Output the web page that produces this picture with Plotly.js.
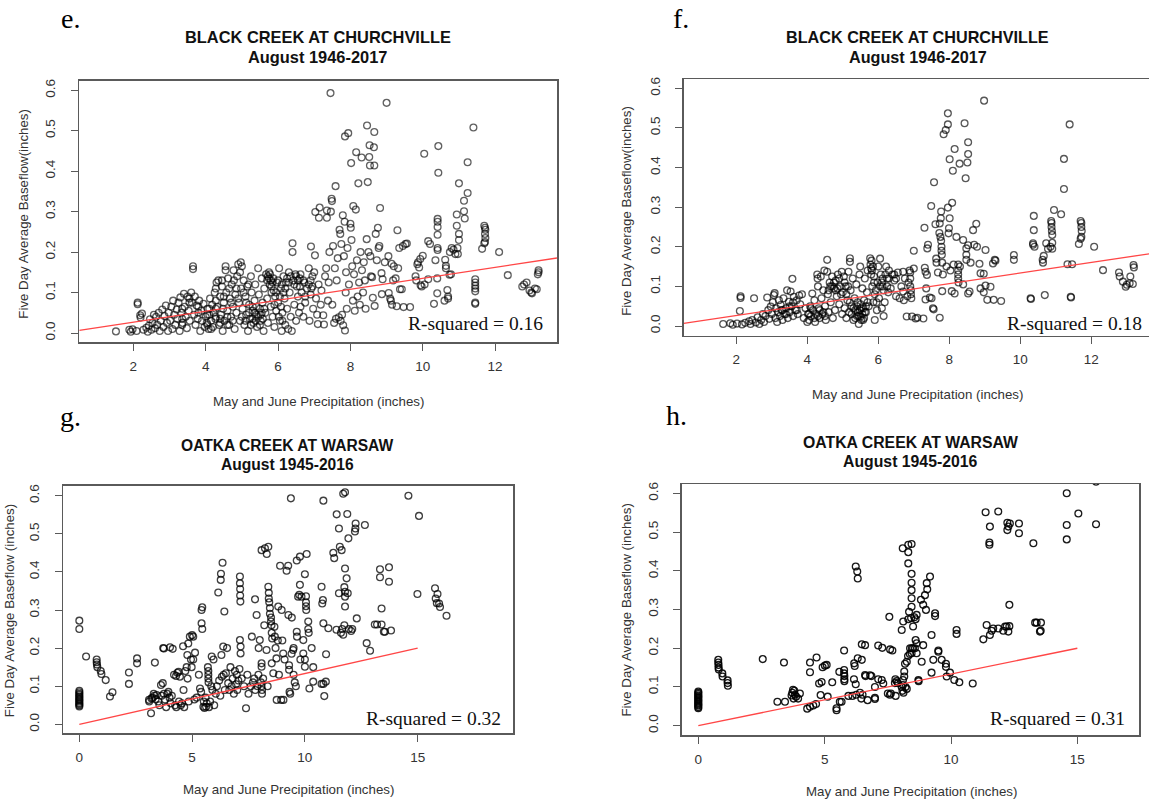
<!DOCTYPE html>
<html>
<head>
<meta charset="utf-8">
<script src="https://cdn.plot.ly/plotly-3.0.1.min.js"></script>
<style>
html,body{margin:0;padding:0;overflow:hidden;background:#fff;}
#chart{width:1153px;height:801px;}
</style>
</head>
<body>
<div id="chart"></div>
<script>
// ---------------- DATA ----------------
// Panel e: Black Creek at Churchville, August 1946-2017 (precip in, baseflow in)
const ePts = [
[1.52,0.004],[1.89,0.008],[1.93,0.003],[1.98,0.009],[2.09,0.005],[2.12,0.075],[2.12,0.071],[2.19,0.044],[2.2,0.038],[2.24,0.048],[2.28,0.008],[2.36,0.013],[2.4,0.003],[2.43,0.018],[2.46,0.034],[2.5,0.008],[2.53,0.025],[2.57,0.045],[2.6,0.012],[2.63,0.04],[2.66,0.02],[2.7,0.05],[2.73,0.005],[2.76,0.03],[2.8,0.058],[2.83,0.015],[2.86,0.042],[2.9,0.068],[2.93,0.025],[2.96,0.005],[2.98,0.05],
[3.02,0.03],[3.05,0.065],[3.08,0.01],[3.1,0.08],[3.13,0.045],[3.16,0.02],[3.2,0.058],[3.22,0.035],[3.25,0.075],[3.28,0.005],[3.3,0.088],[3.33,0.05],[3.36,0.025],[3.4,0.097],[3.42,0.065],[3.45,0.04],[3.48,0.012],[3.5,0.09],[3.53,0.055],[3.56,0.03],[3.6,0.1],[3.62,0.075],[3.65,0.165],[3.65,0.158],[3.68,0.045],[3.7,0.09],[3.72,0.02],[3.75,0.068],[3.78,0.035],[3.82,0.08],[3.85,0.005],[3.88,0.055],[3.9,0.03],[3.94,0.072],[3.97,0.015],
[3.35,0.02],[3.35,0.035],[3.35,0.06],[3.55,0.075],[3.55,0.085],[3.8,0.05],[3.8,0.065],
[4.0,0.04],[4.03,0.025],[4.05,0.06],[4.08,0.01],[4.1,0.045],[4.12,0.085],[4.15,0.03],[4.18,0.07],[4.2,0.015],[4.22,0.05],[4.25,0.1],[4.27,0.035],[4.3,0.125],[4.32,0.065],[4.35,0.13],[4.37,0.02],[4.4,0.09],[4.42,0.045],[4.45,0.115],[4.47,0.005],[4.5,0.075],[4.52,0.03],[4.55,0.165],[4.55,0.155],[4.57,0.1],[4.6,0.055],[4.62,0.135],[4.65,0.02],[4.67,0.085],[4.7,0.04],[4.72,0.12],[4.75,0.065],[4.77,0.155],[4.8,0.01],[4.82,0.095],[4.85,0.05],[4.87,0.14],[4.9,0.17],[4.92,0.075],[4.95,0.03],[4.97,0.175],[4.98,0.11],
[4.05,0.02],[4.05,0.045],[4.1,0.06],[4.15,0.01],[4.28,0.04],[4.28,0.06],[4.28,0.08],[4.28,0.11],[4.4,0.025],[4.4,0.035],[4.45,0.13],[4.48,0.06],[4.5,0.09],[4.6,0.02],[4.6,0.04],[4.65,0.11],[4.7,0.075],[4.75,0.03],[4.78,0.13],[4.85,0.11],[4.9,0.085],[4.95,0.15],
[5.0,0.165],[5.02,0.06],[5.05,0.13],[5.07,0.02],[5.1,0.09],[5.12,0.045],[5.15,0.115],[5.17,0.005],[5.2,0.07],[5.22,0.035],[5.25,0.14],[5.27,0.1],[5.3,0.055],[5.32,0.025],[5.35,0.08],[5.37,0.12],[5.4,0.045],[5.42,0.015],[5.45,0.16],[5.47,0.095],[5.5,0.06],[5.52,0.03],[5.55,0.135],[5.57,0.075],[5.6,0.005],[5.62,0.11],[5.65,0.05],[5.67,0.145],[5.7,0.085],[5.72,0.025],[5.75,0.15],[5.77,0.12],[5.8,0.065],[5.82,0.1],[5.85,0.04],[5.87,0.135],[5.9,0.015],[5.92,0.09],[5.95,0.055],[5.97,0.125],
[5.0,0.04],[5.05,0.1],[5.1,0.03],[5.12,0.075],[5.18,0.12],[5.2,0.05],[5.25,0.02],[5.3,0.035],[5.3,0.065],[5.35,0.05],[5.38,0.03],[5.4,0.065],[5.45,0.04],[5.5,0.02],[5.52,0.045],[5.55,0.05],[5.58,0.035],[5.62,0.06],[5.7,0.13],[5.72,0.14],[5.75,0.135],[5.78,0.145],[5.8,0.13],[5.82,0.115],[5.85,0.125],[5.88,0.105],[5.9,0.07],[5.95,0.1],
[6.0,0.075],[6.03,0.16],[6.05,0.03],[6.08,0.11],[6.1,0.005],[6.12,0.05],[6.15,0.14],[6.18,0.085],[6.2,0.02],[6.22,0.125],[6.25,0.06],[6.28,0.01],[6.3,0.15],[6.32,0.1],[6.35,0.04],[6.38,0.005],[6.4,0.222],[6.4,0.2],[6.42,0.13],[6.45,0.07],[6.48,0.145],[6.5,0.03],[6.52,0.115],[6.55,0.09],[6.58,0.05],[6.6,0.135],[6.62,0.065],[6.65,0.1],[6.7,0.04],[6.72,0.125],[6.75,0.075],[6.8,0.11],[6.85,0.16],[6.87,0.03],[6.9,0.095],[6.91,0.214],[6.95,0.14],[6.97,0.06],
[6.0,0.13],[6.02,0.04],[6.05,0.09],[6.08,0.065],[6.1,0.12],[6.12,0.03],[6.15,0.1],[6.2,0.11],[6.25,0.135],[6.3,0.125],[6.35,0.14],[6.45,0.12],[6.5,0.14],[6.55,0.13],[6.6,0.115],[6.62,0.145],[6.7,0.13],[6.75,0.09],[6.85,0.12],[6.9,0.13],[6.92,0.11],[6.95,0.115],
[7.0,0.15],[7.02,0.192],[7.03,0.299],[7.05,0.085],[7.08,0.045],[7.1,0.022],[7.12,0.12],[7.13,0.285],[7.15,0.31],[7.18,0.07],[7.2,0.105],[7.25,0.044],[7.27,0.021],[7.3,0.14],[7.33,0.16],[7.35,0.303],[7.35,0.285],[7.38,0.08],[7.4,0.125],[7.42,0.2],[7.45,0.593],[7.46,0.3],[7.48,0.332],[7.49,0.326],[7.5,0.07],[7.52,0.215],[7.55,0.025],[7.57,0.16],[7.59,0.363],[7.6,0.035],[7.62,0.13],[7.65,0.185],[7.68,0.039],[7.7,0.255],[7.72,0.245],[7.73,0.03],[7.75,0.22],[7.77,0.045],[7.79,0.291],[7.8,0.019],[7.82,0.19],[7.84,0.275],[7.85,0.006],[7.85,0.486],[7.87,0.1],[7.88,0.15],[7.9,0.06],[7.92,0.21],[7.94,0.494],[7.96,0.12],
[8.0,0.27],[8.01,0.26],[8.02,0.42],[8.03,0.23],[8.05,0.165],[8.07,0.08],[8.08,0.314],[8.1,0.145],[8.12,0.055],[8.15,0.305],[8.16,0.447],[8.18,0.18],[8.2,0.09],[8.22,0.37],[8.24,0.125],[8.26,0.07],[8.28,0.2],[8.31,0.434],[8.32,0.155],[8.35,0.1],[8.37,0.175],[8.4,0.13],[8.42,0.06],[8.45,0.232],[8.46,0.513],[8.48,0.373],[8.5,0.2],[8.52,0.435],[8.53,0.464],[8.54,0.414],[8.55,0.19],[8.57,0.14],[8.6,0.138],[8.62,0.087],[8.65,0.459],[8.66,0.497],[8.66,0.414],[8.67,0.067],[8.7,0.245],[8.73,0.18],[8.76,0.26],[8.78,0.21],[8.8,0.215],[8.82,0.309],[8.86,0.148],[8.87,0.096],[8.89,0.133],[8.95,0.175],
[9.0,0.569],[9.05,0.19],[9.06,0.099],[9.1,0.085],[9.12,0.08],[9.14,0.171],[9.15,0.07],[9.18,0.13],[9.2,0.165],[9.25,0.135],[9.28,0.066],[9.3,0.254],[9.32,0.16],[9.35,0.21],[9.37,0.108],[9.42,0.108],[9.45,0.215],[9.47,0.064],[9.52,0.22],[9.56,0.221],[9.65,0.064],[9.8,0.14],[9.82,0.13],[9.85,0.17],[9.87,0.175],[9.9,0.162],[9.93,0.183],[9.94,0.118],[9.97,0.115],
[10.0,0.191],[10.04,0.443],[10.05,0.12],[10.15,0.227],[10.15,0.133],[10.2,0.22],[10.31,0.072],[10.35,0.18],[10.4,0.135],[10.4,0.098],[10.41,0.282],[10.41,0.275],[10.41,0.262],[10.41,0.243],[10.41,0.21],[10.41,0.205],[10.43,0.462],[10.43,0.396],[10.6,0.08],[10.62,0.181],[10.64,0.166],[10.64,0.16],[10.68,0.106],[10.7,0.09],[10.7,0.085],[10.74,0.144],[10.78,0.145],[10.75,0.2],[10.8,0.21],[10.85,0.206],[10.9,0.195],[10.94,0.293],[10.94,0.265],[10.96,0.21],[10.97,0.195],
[11.0,0.37],[11.0,0.245],[11.0,0.23],[11.14,0.327],[11.14,0.301],[11.16,0.283],[11.24,0.422],[11.24,0.346],[11.4,0.508],[11.45,0.133],[11.45,0.125],[11.45,0.117],[11.45,0.11],[11.45,0.103],[11.45,0.075],[11.45,0.072],[11.64,0.208],[11.7,0.265],[11.72,0.26],[11.73,0.255],[11.72,0.245],[11.73,0.235],[11.72,0.225],[11.7,0.222],[12.11,0.2],[12.35,0.143],[12.75,0.115],[12.8,0.12],[12.87,0.125],[12.95,0.105],[13.0,0.1],[13.02,0.098],[13.1,0.11],[13.15,0.108],[13.18,0.145],[13.2,0.15],[13.2,0.155]
];

// Panel f: Black Creek at Churchville, August 1946-2017
const fPts = [
[1.63,0.005],[1.83,0.007],[1.9,0.003],[2.02,0.006],[2.1,0.038],[2.12,0.075],[2.12,0.071],[2.16,0.004],[2.25,0.008],[2.36,0.012],[2.4,0.005],[2.45,0.015],[2.5,0.07],[2.55,0.009],[2.6,0.022],[2.65,0.005],[2.7,0.015],[2.75,0.03],[2.78,0.01],[2.82,0.025],[2.87,0.072],[2.9,0.04],[2.93,0.018],[2.97,0.049],
[3.0,0.03],[3.03,0.06],[3.06,0.078],[3.08,0.083],[3.1,0.02],[3.12,0.045],[3.15,0.01],[3.18,0.035],[3.2,0.065],[3.23,0.025],[3.25,0.053],[3.28,0.04],[3.3,0.015],[3.33,0.07],[3.36,0.03],[3.4,0.045],[3.43,0.09],[3.45,0.02],[3.48,0.061],[3.5,0.035],[3.53,0.087],[3.56,0.05],[3.58,0.119],[3.6,0.025],[3.62,0.074],[3.66,0.04],[3.7,0.065],[3.73,0.03],[3.77,0.077],[3.8,0.055],[3.85,0.08],[3.9,0.02],[3.95,0.045],
[3.3,0.04],[3.4,0.03],[3.5,0.05],[3.6,0.06],[3.7,0.04],
[4.0,0.01],[4.02,0.03],[4.05,0.015],[4.08,0.05],[4.1,0.025],[4.14,0.082],[4.16,0.04],[4.2,0.065],[4.22,0.01],[4.25,0.03],[4.28,0.13],[4.29,0.12],[4.3,0.1],[4.32,0.045],[4.35,0.02],[4.38,0.125],[4.4,0.07],[4.42,0.03],[4.45,0.09],[4.48,0.14],[4.5,0.05],[4.52,0.015],[4.56,0.167],[4.56,0.137],[4.58,0.08],[4.6,0.035],[4.63,0.11],[4.66,0.06],[4.7,0.125],[4.72,0.02],[4.75,0.095],[4.78,0.04],[4.8,0.115],[4.83,0.075],[4.86,0.13],[4.9,0.055],[4.93,0.1],[4.97,0.137],[4.98,0.03],
[4.05,0.03],[4.1,0.045],[4.2,0.02],[4.3,0.025],[4.35,0.04],[4.45,0.035],[4.5,0.025],[4.6,0.09],[4.65,0.1],[4.7,0.1],[4.75,0.11],[4.8,0.09],[4.85,0.095],[4.9,0.12],[4.95,0.08],
[5.0,0.085],[5.03,0.125],[5.05,0.045],[5.08,0.1],[5.1,0.02],[5.13,0.065],[5.16,0.137],[5.18,0.035],[5.2,0.171],[5.2,0.162],[5.22,0.09],[5.25,0.05],[5.28,0.12],[5.3,0.015],[5.33,0.07],[5.35,0.04],[5.38,0.105],[5.4,0.025],[5.42,0.06],[5.45,0.005],[5.47,0.13],[5.49,0.15],[5.5,0.024],[5.52,0.045],[5.55,0.095],[5.57,0.015],[5.6,0.065],[5.62,0.12],[5.65,0.035],[5.68,0.085],[5.7,0.14],[5.73,0.05],[5.77,0.171],[5.78,0.155],[5.8,0.145],[5.81,0.165],[5.83,0.1],[5.86,0.06],[5.88,0.125],[5.9,0.015],[5.93,0.09],[5.96,0.04],[5.98,0.11],
[5.05,0.11],[5.1,0.08],[5.15,0.1],[5.2,0.06],[5.25,0.03],[5.3,0.045],[5.35,0.02],[5.4,0.05],[5.42,0.035],[5.45,0.025],[5.48,0.04],[5.5,0.055],[5.52,0.015],[5.55,0.03],[5.58,0.045],[5.6,0.02],[5.62,0.035],[5.65,0.05],[5.7,0.06],[5.8,0.13],[5.82,0.14],[5.85,0.15],[5.88,0.11],[5.9,0.08],[5.95,0.06],
[6.0,0.15],[6.02,0.07],[6.05,0.17],[6.07,0.13],[6.1,0.045],[6.12,0.1],[6.15,0.025],[6.18,0.06],[6.22,0.15],[6.25,0.12],[6.28,0.085],[6.3,0.14],[6.35,0.095],[6.4,0.13],[6.45,0.115],[6.5,0.075],[6.55,0.135],[6.6,0.07],[6.65,0.1],[6.7,0.137],[6.7,0.087],[6.72,0.065],[6.75,0.12],[6.8,0.024],[6.82,0.075],[6.85,0.11],[6.88,0.14],[6.9,0.135],[6.9,0.12],[6.9,0.1],[6.92,0.09],[6.92,0.08],[6.93,0.07],[6.95,0.024],
[6.05,0.1],[6.1,0.11],[6.12,0.12],[6.15,0.09],[6.2,0.13],[6.25,0.1],[6.3,0.12],[6.45,0.13],[6.5,0.12],
[7.0,0.19],[7.0,0.145],[7.05,0.019],[7.1,0.021],[7.27,0.019],[7.3,0.248],[7.31,0.147],[7.33,0.137],[7.33,0.067],[7.35,0.095],[7.37,0.129],[7.38,0.196],[7.4,0.205],[7.45,0.072],[7.49,0.303],[7.5,0.07],[7.54,0.045],[7.56,0.042],[7.57,0.363],[7.61,0.257],[7.63,0.17],[7.64,0.16],[7.68,0.135],[7.72,0.235],[7.73,0.259],[7.73,0.021],[7.75,0.225],[7.76,0.272],[7.77,0.289],[7.77,0.215],[7.78,0.2],[7.78,0.19],[7.79,0.18],[7.8,0.088],[7.8,0.16],[7.82,0.13],[7.84,0.484],[7.9,0.495],[7.92,0.15],[7.96,0.537],[7.96,0.509],[7.96,0.299],[7.98,0.234],[7.99,0.247],
[8.01,0.272],[8.01,0.421],[8.03,0.14],[8.07,0.088],[8.08,0.311],[8.1,0.392],[8.12,0.155],[8.15,0.447],[8.15,0.082],[8.2,0.225],[8.25,0.155],[8.25,0.14],[8.25,0.13],[8.25,0.12],[8.26,0.11],[8.29,0.41],[8.3,0.15],[8.39,0.217],[8.39,0.105],[8.43,0.512],[8.46,0.373],[8.48,0.196],[8.48,0.18],[8.48,0.167],[8.51,0.413],[8.53,0.464],[8.53,0.434],[8.53,0.204],[8.53,0.082],[8.57,0.087],[8.6,0.16],[8.67,0.242],[8.7,0.205],[8.76,0.258],[8.78,0.2],[8.85,0.157],[8.88,0.133],[8.88,0.095],[8.97,0.132],[8.97,0.085],[8.98,0.569],
[9.02,0.192],[9.02,0.102],[9.07,0.066],[9.16,0.099],[9.23,0.158],[9.25,0.066],[9.28,0.167],[9.3,0.165],[9.46,0.063],[9.82,0.179],[9.82,0.167],
[10.29,0.07],[10.3,0.068],[10.36,0.209],[10.36,0.205],[10.38,0.278],[10.38,0.242],[10.4,0.2],[10.63,0.167],[10.64,0.16],[10.66,0.177],[10.69,0.078],[10.73,0.209],[10.78,0.195],[10.85,0.2],[10.87,0.265],[10.88,0.26],[10.88,0.25],[10.89,0.24],[10.9,0.23],[10.9,0.21],[10.95,0.293],[10.9,0.195],[11.15,0.282],[11.23,0.422],[11.23,0.346],[11.33,0.156],[11.39,0.509],[11.42,0.074],[11.43,0.072],[11.46,0.156],[11.65,0.207],[11.7,0.265],[11.72,0.26],[11.72,0.25],[11.73,0.24],[11.72,0.225],[11.7,0.22],[12.08,0.2],[12.33,0.141],[12.78,0.135],[12.8,0.125],[12.89,0.112],[12.97,0.099],[13.0,0.104],[13.08,0.108],[13.1,0.125],[13.17,0.106],[13.19,0.154],[13.2,0.148]
];

// Panel g: Oatka Creek at Warsaw, August 1945-2016
const gPts = [
[0,0.047],[0,0.05],[0,0.053],[0,0.056],[0,0.06],[0,0.063],[0,0.066],[0,0.07],[0,0.073],[0,0.077],[0,0.08],[0,0.084],[0,0.088],[0,0.25],[0,0.272],
[0.3,0.178],[0.77,0.17],[0.77,0.163],[0.78,0.157],[0.8,0.15],[0.95,0.14],[0.98,0.132],[1.17,0.116],[1.36,0.073],[1.47,0.084],[2.2,0.136],[2.2,0.106],[2.56,0.173],[2.56,0.16],
[3.09,0.064],[3.1,0.06],[3.18,0.029],[3.2,0.068],[3.25,0.07],[3.3,0.08],[3.33,0.075],[3.35,0.162],[3.38,0.066],[3.43,0.077],[3.5,0.06],[3.55,0.05],[3.62,0.103],[3.65,0.075],[3.7,0.108],[3.72,0.2],[3.75,0.199],[3.75,0.08],[3.8,0.065],[3.85,0.045],[3.9,0.08],[3.95,0.085],[4.0,0.07],
[4.02,0.202],[4.05,0.055],[4.1,0.075],[4.14,0.198],[4.2,0.13],[4.25,0.05],[4.29,0.127],[4.3,0.045],[4.35,0.135],[4.4,0.138],[4.42,0.06],[4.46,0.125],[4.5,0.05],[4.55,0.055],[4.6,0.205],[4.62,0.09],[4.65,0.045],[4.7,0.14],[4.76,0.15],[4.79,0.182],[4.8,0.12],[4.83,0.212],[4.85,0.06],[4.9,0.23],[4.95,0.17],[4.98,0.15],[5.0,0.234],
[5.05,0.23],[5.05,0.17],[5.1,0.065],[5.13,0.188],[5.2,0.07],[5.3,0.13],[5.35,0.094],[5.4,0.085],[5.42,0.3],[5.42,0.265],[5.45,0.307],[5.45,0.25],[5.5,0.046],[5.52,0.06],[5.55,0.043],[5.6,0.07],[5.62,0.046],[5.65,0.055],[5.7,0.15],[5.72,0.14],[5.72,0.13],[5.72,0.12],[5.73,0.11],[5.75,0.045],[5.8,0.06],[5.85,0.1],[5.87,0.178],[5.9,0.09],[5.95,0.17],[5.98,0.05],
[6.05,0.08],[6.1,0.1],[6.16,0.346],[6.2,0.115],[6.25,0.075],[6.27,0.379],[6.28,0.395],[6.3,0.182],[6.32,0.125],[6.35,0.424],[6.38,0.204],[6.4,0.13],[6.43,0.296],[6.45,0.09],[6.5,0.134],[6.55,0.2],[6.6,0.108],[6.65,0.09],[6.7,0.15],[6.75,0.1],[6.8,0.12],[6.85,0.08],[6.9,0.14],[6.95,0.105],[6.98,0.13],
[7.0,0.09],[7.05,0.115],[7.1,0.145],[7.12,0.388],[7.12,0.37],[7.13,0.355],[7.13,0.338],[7.14,0.322],[7.12,0.221],[7.15,0.204],[7.15,0.186],[7.2,0.12],[7.3,0.1],[7.39,0.042],[7.45,0.13],[7.5,0.08],[7.6,0.1],[7.65,0.23],[7.7,0.11],[7.75,0.12],[7.79,0.328],[7.8,0.09],[7.86,0.287],[7.9,0.1],[7.94,0.13],[7.95,0.2],
[8.0,0.221],[8.05,0.11],[8.08,0.16],[8.08,0.151],[8.08,0.1],[8.1,0.09],[8.1,0.08],[8.08,0.457],[8.15,0.12],[8.2,0.26],[8.23,0.462],[8.3,0.195],[8.31,0.447],[8.35,0.1],[8.38,0.466],[8.38,0.361],[8.4,0.345],[8.4,0.33],[8.42,0.32],[8.45,0.305],[8.45,0.29],[8.5,0.28],[8.5,0.27],[8.52,0.26],[8.53,0.24],[8.55,0.225],[8.53,0.16],[8.6,0.134],[8.65,0.256],[8.67,0.23],[8.7,0.2],[8.74,0.173],[8.75,0.064],[8.8,0.22],[8.82,0.309],[8.85,0.13],[8.9,0.416],[8.95,0.064],[8.97,0.3],[9.0,0.22],
[9.04,0.186],[9.05,0.064],[9.1,0.17],[9.19,0.403],[9.26,0.416],[9.27,0.287],[9.3,0.155],[9.3,0.143],[9.32,0.085],[9.35,0.08],[9.38,0.593],[9.41,0.185],[9.42,0.28],[9.48,0.195],[9.5,0.2],[9.5,0.13],[9.55,0.11],[9.6,0.1],[9.64,0.43],[9.64,0.243],[9.65,0.23],[9.7,0.335],[9.75,0.34],[9.78,0.44],[9.78,0.366],[9.8,0.17],[9.85,0.335],[9.93,0.186],[9.93,0.221],[10.0,0.17],
[10.0,0.394],[10.0,0.151],[10.05,0.336],[10.05,0.32],[10.05,0.31],[10.06,0.3],[10.08,0.447],[10.15,0.27],[10.15,0.25],[10.17,0.24],[10.2,0.094],[10.3,0.2],[10.37,0.15],[10.37,0.112],[10.74,0.361],[10.77,0.317],[10.74,0.106],[10.8,0.326],[10.82,0.265],[10.82,0.587],[10.82,0.106],[10.86,0.074],[10.93,0.112],[10.94,0.184],
[11.04,0.252],[11.26,0.45],[11.3,0.436],[11.4,0.248],[11.41,0.551],[11.51,0.514],[11.51,0.344],[11.55,0.466],[11.6,0.24],[11.63,0.457],[11.65,0.25],[11.7,0.605],[11.7,0.235],[11.75,0.36],[11.75,0.26],[11.78,0.609],[11.78,0.409],[11.78,0.348],[11.78,0.335],[11.78,0.309],[11.85,0.383],[11.88,0.552],[11.9,0.344],[11.93,0.488],[11.95,0.25],[12.05,0.245],[12.1,0.25],[12.22,0.506],[12.24,0.514],[12.25,0.527],[12.3,0.278],[12.66,0.523],[12.74,0.213],[12.89,0.193],[13.1,0.262],[13.2,0.262],[13.33,0.407],[13.33,0.386],[13.4,0.304],[13.4,0.262],[13.5,0.243],[13.55,0.243],[13.73,0.412],[13.73,0.374],[13.82,0.246],[14.59,0.6],[14.99,0.342],[15.06,0.547],[15.77,0.357],[15.8,0.33],[15.85,0.318],[15.88,0.342],[15.95,0.317],[15.99,0.308],[16.28,0.285]
];

// Panel h: Oatka Creek at Warsaw, August 1945-2016
const hPts = [
[0,0.045],[0,0.048],[0,0.052],[0,0.055],[0,0.058],[0,0.062],[0,0.065],[0,0.068],[0,0.072],[0,0.075],[0,0.078],[0,0.082],[0,0.085],[0,0.088],
[0.79,0.17],[0.79,0.163],[0.8,0.157],[0.8,0.15],[0.81,0.145],[0.95,0.135],[0.96,0.127],[1.16,0.117],[1.16,0.11],[1.17,0.103],
[2.55,0.172],[3.13,0.062],[3.39,0.163],[3.43,0.062],[3.69,0.078],[3.72,0.085],[3.75,0.093],[3.77,0.07],[3.8,0.09],[3.82,0.08],[3.87,0.075],[3.95,0.07],[4.02,0.083],
[4.31,0.044],[4.42,0.049],[4.42,0.163],[4.42,0.138],[4.55,0.052],[4.66,0.056],[4.68,0.176],[4.78,0.109],[4.84,0.079],[4.88,0.113],[4.92,0.151],[5.01,0.155],[5.08,0.157],[5.12,0.075],
[5.3,0.112],[5.47,0.045],[5.47,0.04],[5.58,0.139],[5.6,0.062],[5.67,0.062],[5.77,0.194],[5.77,0.144],[5.77,0.135],[5.78,0.128],[5.78,0.12],[5.78,0.115],[5.94,0.077],
[6.1,0.077],[6.16,0.12],[6.17,0.161],[6.19,0.154],[6.23,0.107],[6.23,0.411],[6.29,0.398],[6.31,0.38],[6.31,0.174],[6.25,0.08],[6.4,0.085],[6.45,0.07],[6.47,0.17],[6.47,0.21],[6.5,0.08],[6.6,0.208],[6.6,0.131],[6.62,0.128],[6.7,0.066],[6.8,0.13],[6.85,0.128],[6.99,0.072],[6.99,0.069],[6.99,0.1],
[7.12,0.207],[7.12,0.12],[7.26,0.118],[7.28,0.201],[7.32,0.109],[7.5,0.083],[7.56,0.281],[7.58,0.08],[7.59,0.197],[7.62,0.083],[7.68,0.194],[7.78,0.11],[7.8,0.12],[7.81,0.077],[7.85,0.115],[7.9,0.11],
[8.05,0.247],[8.05,0.1],[8.08,0.09],[8.09,0.458],[8.1,0.118],[8.1,0.105],[8.11,0.269],[8.12,0.085],[8.15,0.14],[8.15,0.127],[8.18,0.16],[8.2,0.1],[8.25,0.165],[8.25,0.095],[8.3,0.18],[8.31,0.467],[8.31,0.448],[8.31,0.419],[8.31,0.275],[8.34,0.294],[8.37,0.185],[8.38,0.2],[8.42,0.278],[8.44,0.469],[8.44,0.392],[8.44,0.369],[8.44,0.35],[8.44,0.329],[8.44,0.307],[8.44,0.187],[8.45,0.2],[8.5,0.256],[8.5,0.2],[8.55,0.28],[8.57,0.2],[8.6,0.221],[8.6,0.275],[8.64,0.286],[8.64,0.213],[8.64,0.187],[8.71,0.118],[8.72,0.115],[8.81,0.325],[8.84,0.165],[8.9,0.312],[8.9,0.208],[8.97,0.337],[9.01,0.299],[9.04,0.368],[9.06,0.352],[9.17,0.385],[9.23,0.234],[9.23,0.137],[9.3,0.17],[9.37,0.29],[9.37,0.283],[9.5,0.194],[9.5,0.191],[9.63,0.17],[9.8,0.16],[9.8,0.152],[9.83,0.127],[9.96,0.137],[10.13,0.118],[10.22,0.247],[10.22,0.237],[10.33,0.112],[10.86,0.109],
[11.28,0.223],[11.37,0.551],[11.41,0.26],[11.52,0.473],[11.52,0.467],[11.54,0.514],[11.54,0.234],[11.61,0.245],[11.67,0.251],[11.87,0.553],[11.87,0.251],[12.07,0.245],[12.14,0.256],[12.2,0.256],[12.23,0.524],[12.23,0.505],[12.27,0.514],[12.27,0.243],[12.31,0.312],[12.31,0.257],[12.33,0.522],[12.69,0.522],[12.69,0.497],[13.26,0.471],[13.33,0.266],[13.39,0.266],[13.52,0.243],[13.55,0.245],[13.56,0.266],[14.58,0.6],[14.58,0.518],[14.58,0.481],[15.04,0.548],[15.74,0.52],[15.74,0.63]
];

// Fitted regression lines (intercept, slope), one per panel e,f,g,h
const fitIntercept = [-0.0003, -0.0001, 0.0, 0.0];
const fitSlope = [0.01355, 0.01338, 0.01333, 0.01333];
// Lines for g and h are drawn only over precipitation 0..15
const fitFrom = [null, null, 0, 0];
const fitTo = [null, null, 15, 15];

const panelLetters = ['e.', 'f.', 'g.', 'h.'];
const titleLine1 = ['BLACK CREEK AT CHURCHVILLE', 'BLACK CREEK AT CHURCHVILLE', 'OATKA CREEK AT WARSAW', 'OATKA CREEK AT WARSAW'];
const titleLine2 = ['August 1946-2017', 'August 1946-2017', 'August 1945-2016', 'August 1945-2016'];
const rSquared = ['0.16', '0.18', '0.32', '0.31'];
const xTitle = 'May and June Precipitation (inches)';
const yTitles = ['Five Day Average Baseflow(inches)', 'Five Day Average Baseflow(inches)', 'Five Day Average Baseflow (inches)', 'Five Day Average Baseflow (inches)'];
const xTicksBC = [2, 4, 6, 8, 10, 12];
const xTicksOC = [0, 5, 10, 15];
const yTicks = [0, 0.1, 0.2, 0.3, 0.4, 0.5, 0.6];

// ---------------- LAYOUT (pixel geometry) ----------------
const W = 1153, H = 801;
const px = v => v / W;
const py = v => 1 - v / H;

const panels = [
  {pts: ePts, box: [79.3, 557, 80.7, 342.3], xr: [0.507, 13.71], yr: [-0.023, 0.6237], xt: xTicksBC,
   letter: [58.7, 18.3], t1: [317.6, 36.7], t2: [317.6, 57.3], rs: [545, 323.5], xl: [318, 401], yl: [22.7, 214], op: 0.62, fs1: 16.4},
  {pts: fPts, box: [683.7, 1152, 79, 335.7], xr: [0.518, 13.71], yr: [-0.0245, 0.6237], xt: xTicksBC,
   letter: [671, 18.3], t1: [917.6, 36.7], t2: [917.9, 57.3], rs: [1144, 323.8], xl: [917.6, 394], yl: [626.3, 210.5], op: 0.66, fs1: 16.2},
  {pts: gPts, box: [63.3, 513.3, 485.7, 733.3], xr: [-0.71, 19.24], yr: [-0.0236, 0.6262], xt: xTicksOC,
   letter: [57.6, 416.6], t1: [287.7, 445.7], t2: [287.9, 464], rs: [502.7, 718.8], xl: [288, 789], yl: [9.2, 611], op: 0.75, fs1: 15.6},
  {pts: hPts, box: [681.7, 1139, 484, 735], xr: [-0.657, 17.44], yr: [-0.024, 0.624], xt: xTicksOC,
   letter: [664, 415.6], t1: [910.5, 442.3], t2: [910.7, 461.7], rs: [1127.3, 718.8], xl: [911, 791.7], yl: [626, 610.5], op: 0.9, fs1: 15.8}
];

const traces = [];
const layout = {
  width: W, height: H,
  margin: {l: 0, r: 0, t: 0, b: 0},
  paper_bgcolor: '#ffffff', plot_bgcolor: '#ffffff',
  showlegend: false, hovermode: false,
  annotations: []
};
const sans = 'Liberation Sans, Arial, Helvetica, sans-serif';
const serif = 'Liberation Serif, Times New Roman, serif';

panels.forEach((p, i) => {
  const n = i + 1;
  const xa = n === 1 ? 'x' : 'x' + n;
  const ya = n === 1 ? 'y' : 'y' + n;
  traces.push({
    type: 'scatter', mode: 'markers', xaxis: xa, yaxis: ya,
    x: p.pts.map(q => q[0]), y: p.pts.map(q => q[1]),
    marker: {symbol: 'circle-open', size: 6.8, color: 'rgba(0,0,0,' + p.op + ')', line: {width: 1.3, color: 'rgba(0,0,0,' + p.op + ')'}},
    cliponaxis: true
  });
  const x0 = fitFrom[i] === null ? p.xr[0] : fitFrom[i];
  const x1 = fitTo[i] === null ? p.xr[1] : fitTo[i];
  traces.push({
    type: 'scatter', mode: 'lines', xaxis: xa, yaxis: ya,
    x: [x0, x1], y: [fitIntercept[i] + fitSlope[i] * x0, fitIntercept[i] + fitSlope[i] * x1],
    line: {color: 'rgb(255,70,70)', width: 1.3}
  });
  const axCommon = {
    showgrid: false, zeroline: false, showline: true, mirror: true,
    linecolor: '#5a5a5a', linewidth: 1.5,
    ticks: 'outside', ticklen: 7, tickwidth: 1, tickcolor: '#5a5a5a',
    tickfont: {family: sans, size: 13.5, color: '#333'}, fixedrange: true
  };
  layout['xaxis' + (n === 1 ? '' : n)] = Object.assign({}, axCommon, {
    domain: [px(p.box[0]), Math.min(1, px(p.box[1]))], range: p.xr, anchor: ya,
    tickmode: 'array', tickvals: p.xt, ticktext: p.xt.map(String), ticklabelstandoff: 4
  });
  layout['yaxis' + (n === 1 ? '' : n)] = Object.assign({}, axCommon, {
    domain: [py(p.box[3]), py(p.box[2])], range: p.yr, anchor: xa,
    tickmode: 'array', tickvals: yTicks, ticktext: yTicks.map(v => v.toFixed(1)), tickangle: -90, ticklabelstandoff: 10
  });
  const A = layout.annotations;
  A.push({text: panelLetters[i], xref: 'paper', yref: 'paper', x: px(p.letter[0]), y: py(p.letter[1]), xanchor: 'left', yanchor: 'middle', showarrow: false, font: {family: serif, size: 28, color: '#000'}});
  A.push({text: '<b>' + titleLine1[i] + '</b>', xref: 'paper', yref: 'paper', x: px(p.t1[0]), y: py(p.t1[1]), xanchor: 'center', yanchor: 'middle', showarrow: false, font: {family: sans, size: p.fs1, color: '#111'}});
  A.push({text: '<b>' + titleLine2[i] + '</b>', xref: 'paper', yref: 'paper', x: px(p.t2[0]), y: py(p.t2[1]), xanchor: 'center', yanchor: 'middle', showarrow: false, font: {family: sans, size: p.fs1, color: '#111'}});
  A.push({text: 'R-squared = ' + rSquared[i], xref: 'paper', yref: 'paper', x: px(p.rs[0]), y: py(p.rs[1]), xanchor: 'right', yanchor: 'middle', showarrow: false, font: {family: serif, size: 19.5, color: '#111'}});
  A.push({text: xTitle, xref: 'paper', yref: 'paper', x: px(p.xl[0]), y: py(p.xl[1]), xanchor: 'center', yanchor: 'middle', showarrow: false, font: {family: sans, size: 13.3, color: '#333'}});
  A.push({text: yTitles[i], xref: 'paper', yref: 'paper', x: px(p.yl[0]), y: py(p.yl[1]), xanchor: 'center', yanchor: 'middle', textangle: -90, showarrow: false, font: {family: sans, size: 13.3, color: '#333'}});
});

Plotly.newPlot('chart', traces, layout, {staticPlot: true, displayModeBar: false});
</script>
</body>
</html>
